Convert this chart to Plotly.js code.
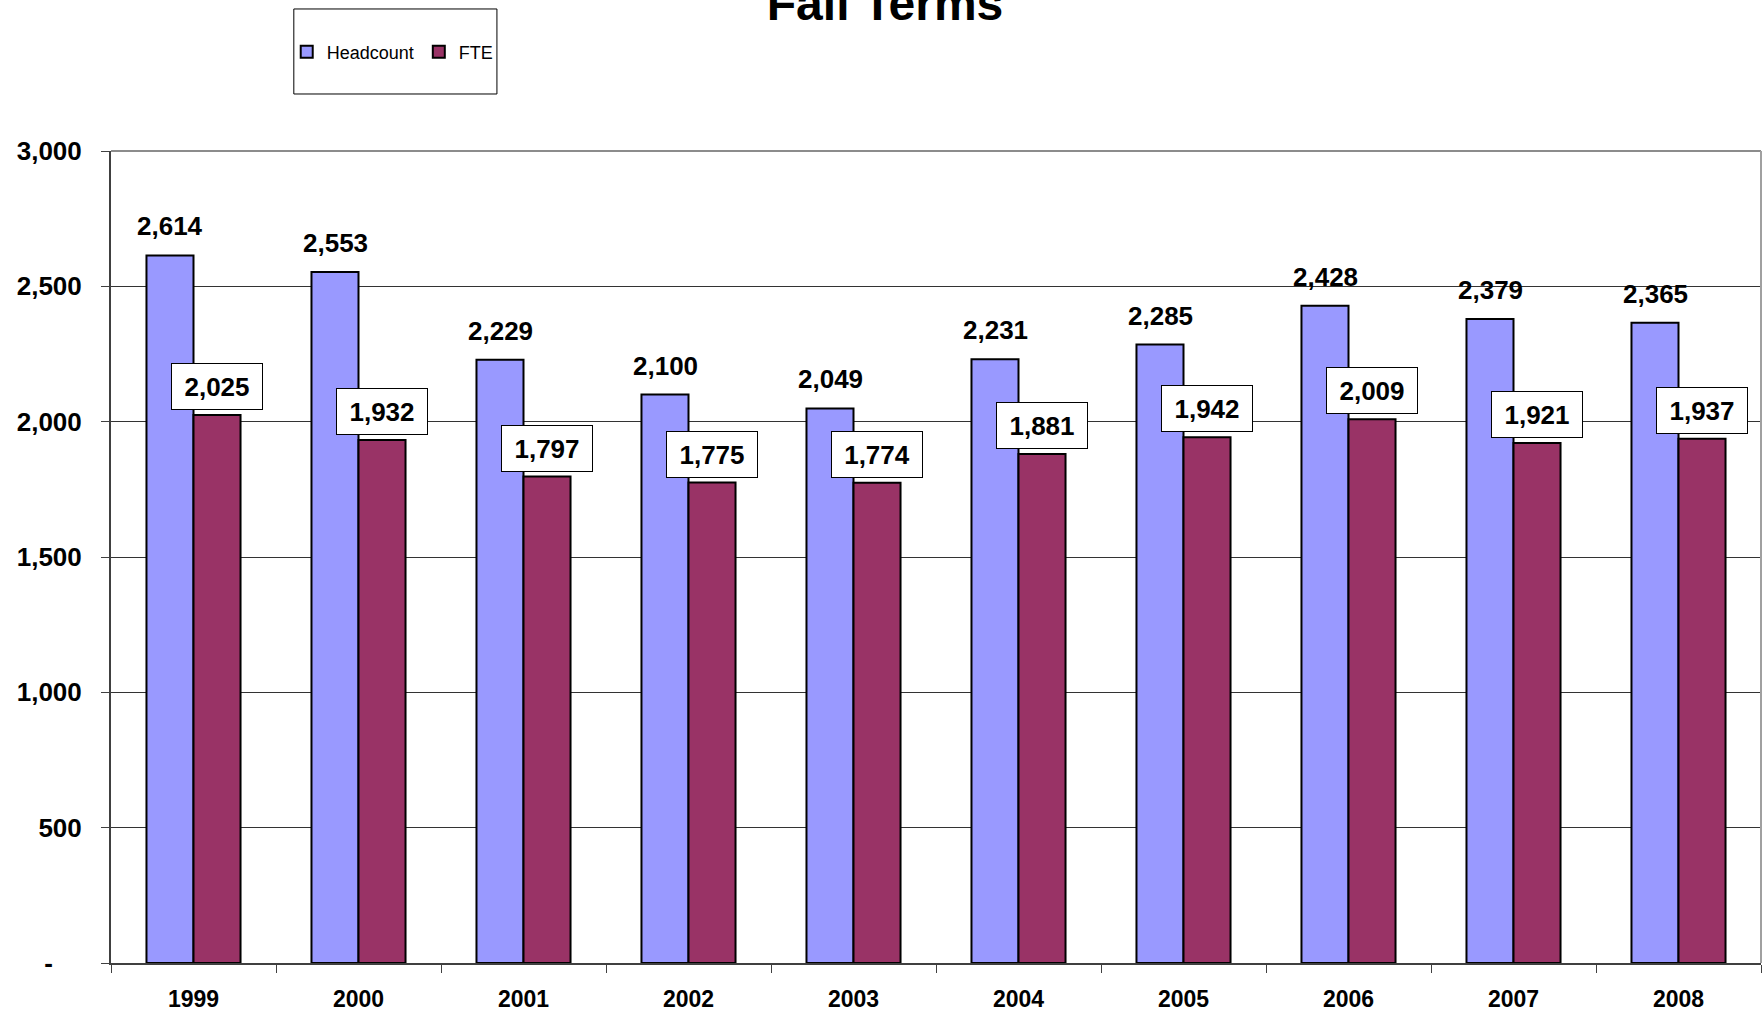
<!DOCTYPE html>
<html>
<head>
<meta charset="utf-8">
<script src="https://cdn.plot.ly/plotly-3.0.1.min.js"></script>
<style>html,body{margin:0;padding:0;background:#fff;}#chart{width:1762px;height:1013px;}</style>
</head>
<body>
<div id="chart"></div>
<script>
const years = ['1999','2000','2001','2002','2003','2004','2005','2006','2007','2008'];
const headcount = [2614, 2553, 2229, 2100, 2049, 2231, 2285, 2428, 2379, 2365];
const fte = [2025, 1932, 1797, 1775, 1774, 1881, 1942, 2009, 1921, 1937];
const yTickVals = [0, 500, 1000, 1500, 2000, 2500, 3000];
const yTickText = ['-\u00a0\u00a0\u00a0\u00a0', '500', '1,000', '1,500', '2,000', '2,500', '3,000'];
const titleText = 'Fall Terms';
const seriesNames = ['Headcount', 'FTE'];

const FONT = 'Liberation Sans, Arial, sans-serif';
const fmt = v => v.toLocaleString('en-US');
const barOffset = 23.5;

const traces = [
  {type:'bar', name:seriesNames[0], x:years, y:headcount,
   marker:{color:'#9999FF', line:{color:'#000000', width:2}}, hoverinfo:'x+y'},
  {type:'bar', name:seriesNames[1], x:years, y:fte,
   marker:{color:'#993366', line:{color:'#000000', width:2}}, hoverinfo:'x+y'}
];

const annotations = [];
years.forEach((yr, i) => {
  annotations.push({x:i, y:headcount[i], xref:'x', yref:'y', text:fmt(headcount[i]),
    showarrow:false, xanchor:'center', yanchor:'bottom', xshift:-barOffset, yshift:12,
    font:{family:FONT, size:26, color:'#000', weight:'bold'}});
  annotations.push({x:i, y:fte[i], xref:'x', yref:'y', text:fmt(fte[i]),
    showarrow:false, xanchor:'center', yanchor:'bottom', xshift:barOffset, yshift:5,
    bgcolor:'#ffffff', bordercolor:'#000000', borderwidth:1, borderpad:6, width:78, height:33,
    font:{family:FONT, size:26, color:'#000', weight:'bold'}});
});

const layout = {
  width:1762, height:1013,
  margin:{l:111, r:1, t:151, b:50, pad:0},
  paper_bgcolor:'#ffffff', plot_bgcolor:'#ffffff',
  font:{family:FONT, color:'#000'},
  title:{text:titleText, x:0.5023, xref:'container', xanchor:'center', y:0.997, yref:'container', yanchor:'middle',
    font:{family:FONT, size:48, color:'#000', weight:'bold'}},
  barmode:'group', bargap:0.43, bargroupgap:0,
  showlegend:true,
  legend:{orientation:'h', x:0.1065, xanchor:'left', y:1.1219, yanchor:'middle',
    bgcolor:'rgba(0,0,0,0)', borderwidth:0, font:{family:FONT, size:18, color:'#000'},
    itemwidth:30, traceorder:'normal'},
  xaxis:{type:'category', range:[-0.5, 9.5], showline:true, linecolor:'#404040', linewidth:2,
    ticks:'outside', tickson:'boundaries', ticklen:8, tickcolor:'#404040', tickwidth:1,
    showgrid:false, zeroline:false, ticklabelstandoff:14, tickangle:0,
    tickfont:{family:FONT, size:23, color:'#000', weight:'bold'}},
  yaxis:{range:[0,3000], tickvals:yTickVals, ticktext:yTickText, showline:true, linecolor:'#404040', linewidth:2,
    ticks:'outside', ticklen:8, tickcolor:'#404040', tickwidth:1,
    showgrid:true, gridcolor:'#333333', gridwidth:1, zeroline:false, ticklabelstandoff:14,
    tickfont:{family:FONT, size:26, color:'#000', weight:'bold'}},
  shapes:[
    {type:'line', xref:'paper', yref:'paper', x0:0, x1:1, y0:1, y1:1, line:{color:'#8c8c8c', width:2}, layer:'above'},
    {type:'line', xref:'paper', yref:'paper', x0:1, x1:1, y0:0, y1:1, line:{color:'#a0a0a0', width:2}, layer:'above'},
    {type:'rect', xref:'paper', yref:'paper', x0:0.1108, x1:0.2339, y0:1.0702, y1:1.1749, line:{color:'#000', width:1}, fillcolor:'rgba(0,0,0,0)'}
  ],
  annotations:annotations
};

Plotly.newPlot('chart', traces, layout, {displayModeBar:false, staticPlot:true});
</script>
</body>
</html>
